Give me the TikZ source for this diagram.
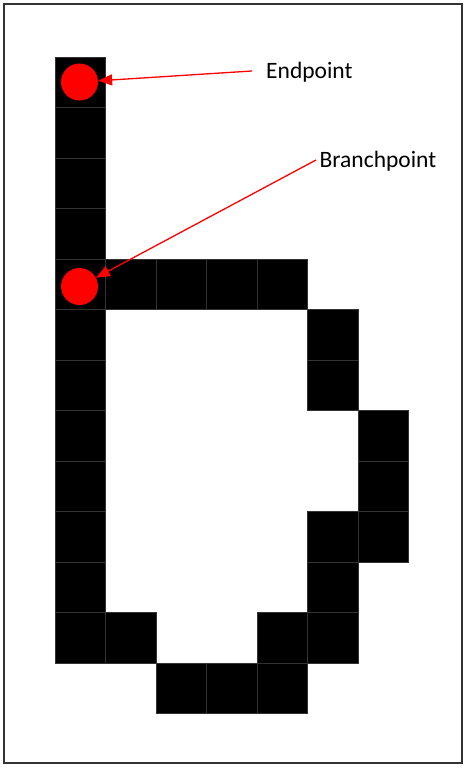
\documentclass[tikz,border=0pt]{standalone}
\usepackage{fontspec}
\setmainfont{Carlito}
\usetikzlibrary{arrows.meta}
\begin{document}
\begin{tikzpicture}[x=1pt,y=-1pt,
  cell/.style={fill=black,draw=black!80,line width=0.7pt},
  frame/.style={draw=black!80,line width=1.6pt},
  dot/.style={circle,fill=red,inner sep=0pt,minimum size=37pt},
  lbl/.style={inner sep=0pt,anchor=base west,font=\fontsize{23.5}{28}\selectfont},
  arr/.style={draw=red,line width=1.3pt,-{Triangle[length=14pt,width=11pt]}}]
\useasboundingbox (0,0) rectangle (474,774);
\fill[white] (0,0) rectangle (474,774);
\draw[frame] (4,4) rectangle (462,763);
\foreach \c/\r in {0/0,0/1,0/2,0/3,0/4,0/5,0/6,0/7,0/8,0/9,0/10,0/11,
  1/4,2/4,3/4,4/4,
  5/5,5/6,
  6/7,6/8,6/9,
  5/9,5/10,5/11,
  1/11,4/11,
  2/12,3/12,4/12}
  \draw[cell] ({55+\c*50.5},{57+\r*50.5}) rectangle ++(50.5,50.5);
\node[dot] (c1) at (79.5,82) {};
\node[dot] (c2) at (79.5,286.5) {};
\node[lbl] (ep) at (266,78.5) {Endpoint};
\node[lbl] (bp) at (319.5,167) {Branchpoint};
\coordinate (epstart) at (252,71);
\coordinate (bpstart) at (316,160);
\draw[arr] (epstart) -- (c1);
\draw[arr] (bpstart) -- (c2);
\end{tikzpicture}
\end{document}
